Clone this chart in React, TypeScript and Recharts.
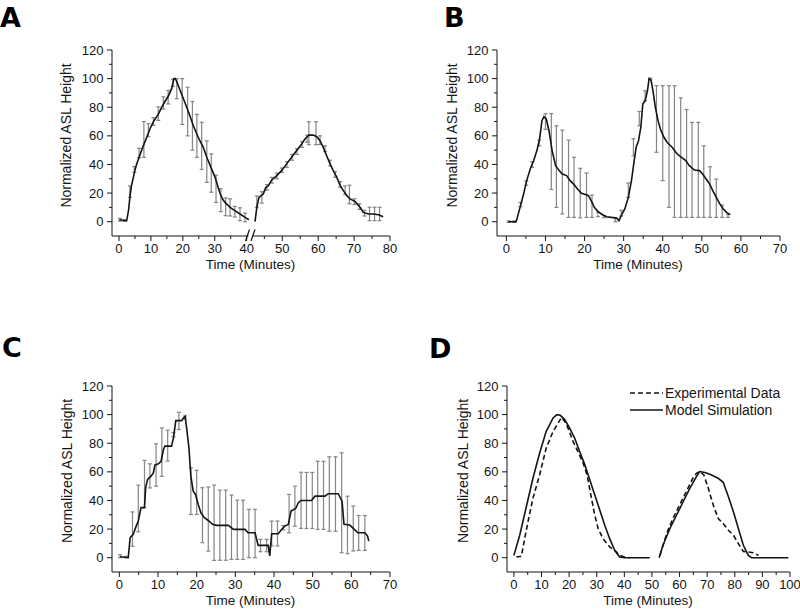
import React from 'react';
import { ComposedChart, Line, Scatter, ErrorBar, XAxis, YAxis, Legend } from 'recharts';

type Pt = [number, number];
type Err = [number, number, number]; // time, mean, +/- error

// ---------- panel A (broken time axis) ----------
const aLine1: Pt[] = [
  [0.1, 1.4], [1.2, 1], [2.4, 0.8], [3.0, 8], [3.4, 17], [3.9, 25], [4.5, 31], [5.0, 36], [5.5, 40],
  [6.6, 47], [7.6, 53], [8.7, 59], [9.7, 65], [10.8, 70], [12.3, 75], [13.4, 80], [14.4, 84], [15.5, 88],
  [16.5, 93], [17.2, 100], [17.6, 100], [18.1, 98], [19.1, 92], [20.7, 83], [22.2, 74], [23.3, 67],
  [24.8, 59], [26.4, 52], [27.5, 45], [28.8, 38], [30.1, 31], [31.6, 20], [32.4, 16], [33.2, 13.5],
  [34.8, 10], [36.3, 7.7], [37.9, 5.4], [39.5, 3], [40.7, 1.4],
];
const aErr1: Err[] = [
  [0.3, 1.4, 1], [1.8, 0.8, 0.6], [3.4, 21, 4], [4.8, 36.5, 2], [6.3, 48, 3.3], [7.8, 57.5, 12.5],
  [9.2, 64, 4.5], [10.8, 70, 2.7], [12.3, 75.5, 4.7], [13.9, 83, 4.3], [15.4, 87, 4.7], [16.9, 97, 2.5],
  [18.1, 93, 7], [19.8, 84, 16], [21.5, 77, 17], [23, 67, 17], [24.4, 60, 15], [25.9, 53, 16.5],
  [27.5, 42, 14.5], [28.9, 34, 13.4], [30.4, 23, 9.5], [31.9, 15, 8], [33.4, 10.4, 6.2], [34.8, 10, 6],
  [36.3, 7, 3.7], [37.9, 5.2, 4.5], [39.5, 3, 3],
];
const aLine2: Pt[] = [
  [42.4, 0], [42.9, 10], [43.5, 17], [44.7, 19.4], [45.4, 24], [46.1, 25], [47, 29], [48.4, 32],
  [49.8, 35.7], [51.2, 40.4], [52.6, 45], [54, 49.7], [55.4, 54.3], [56.3, 57.8], [57.4, 60.5],
  [58.6, 60.5], [59.6, 59.4], [60.5, 56.6], [61.4, 52], [62.3, 46.4], [63.3, 40.4], [64.2, 35.7],
  [65.2, 31], [66.1, 25.4], [67, 21.7], [68, 18.2], [68.9, 15.9], [70.3, 14], [71.6, 10.3], [72.6, 6.5],
  [74, 5.4], [75.4, 5.4], [76.8, 4.9], [78.1, 3.5],
];
const aErr2: Err[] = [
  [42.9, 14, 4], [44.3, 17, 4], [45.7, 24, 2], [47.1, 29, 2], [48.5, 32, 2], [49.9, 36, 1.5],
  [51.3, 40, 2], [52.7, 45, 2], [54.1, 49, 2], [55.5, 54, 2], [56.9, 58, 2.5], [57.4, 61.8, 8],
  [59.4, 61.8, 8], [60.5, 57, 3], [61.9, 51, 2], [63.3, 41, 2], [64.7, 33, 2], [66.1, 26, 2],
  [67.5, 22, 3], [68.7, 19, 6.5], [70.1, 14, 2], [71.5, 10.5, 2], [72.9, 6, 2], [74.3, 5.4, 4.7],
  [75.7, 5.4, 4.7], [77.1, 5.4, 4.7],
];

// ---------- panel B ----------
const bLine: Pt[] = [
  [0.5, 0], [2.5, 0], [3.5, 10], [4.4, 19.3], [5.2, 28.7], [6.1, 36.8], [7, 42.7], [7.8, 49.7],
  [8.5, 57.8], [9.1, 70.6], [9.6, 73.4], [10.2, 71.8], [10.9, 63.6], [11.3, 56.6], [11.7, 49.7],
  [12.6, 39.2], [13.5, 35.7], [14.3, 33.3], [15.4, 32.2], [16.3, 28.7], [17.2, 26.3], [18.2, 22.8],
  [19.2, 19.8], [20.4, 18.9], [21, 18.2], [21.7, 14.7], [22.5, 10], [23.4, 7.2], [24.3, 5.4],
  [25.6, 3.5], [26.9, 3], [28.2, 2.6], [28.8, 0.7], [29.6, 5.4], [30.3, 8.9], [31.2, 17], [32, 28.7],
  [32.7, 42.7], [33.2, 52], [33.8, 56.6], [34.4, 66], [34.9, 82.3], [35.5, 84.6], [36.1, 91.6],
  [36.5, 99.8], [37, 99], [37.5, 91.6], [38.1, 80], [38.8, 70.6], [39.4, 64.8], [40.3, 59],
  [41.1, 55.5], [42.4, 52], [43.7, 47.3], [44.8, 45], [45.9, 42.7], [46.8, 39.2], [48.1, 36.1],
  [49.4, 35.7], [50.2, 33.3], [51.1, 29.8], [52, 26.3], [52.8, 21.7], [53.7, 17], [54.6, 12.4],
  [55.5, 8.9], [56.3, 6.5], [57.3, 4.9],
];
const bErr: Err[] = [
  [0.6, 0, 0.5], [2, 0, 0.5], [3.6, 12, 1.5], [5.1, 27, 1.5], [6.6, 40, 2], [8.4, 55, 2], [10, 70, 5.5],
  [11.5, 49, 26.5], [12.8, 38.5, 28.5], [14.3, 34.7, 29.3], [15.9, 30, 27], [17.3, 24, 21],
  [18.9, 20, 17.3], [20.5, 18.5, 15.5], [21.9, 10.8, 7.8], [23.4, 5, 1.5], [25, 3.5, 0.7],
  [27.9, 1, 1], [29.4, 6, 2], [31.2, 22, 5], [32.5, 52, 6], [34, 72, 5], [35.5, 88, 3.5],
  [36.8, 100, 0.5], [38.4, 71.8, 23.3], [40, 61.9, 33.2], [41.6, 52.5, 42.5], [43, 49, 46],
  [44.6, 44.8, 41.8], [46.1, 40.7, 37.7], [47.5, 36.2, 33.2], [49.1, 36.2, 33.2], [50.5, 28, 25],
  [52.1, 20.7, 17.7], [53.7, 16.4, 13.4], [55.2, 7.3, 4.3], [56.7, 4, 1],
];

// ---------- panel C ----------
const cLine: Pt[] = [
  [0.2, 0.7], [2.3, 0], [2.8, 14], [3.6, 16.3], [4.2, 21], [4.9, 25.6], [5.6, 35], [6.5, 35],
  [6.8, 48.8], [7.3, 54.7], [8.2, 57], [8.8, 59.3], [9.2, 64.7], [10.1, 65.6], [10.8, 67.4],
  [11.4, 75.6], [11.8, 78], [13.5, 78], [14, 83.7], [14.6, 95.8], [16.1, 95.8], [16.5, 97.2],
  [17, 98.8], [17.4, 90.7], [18, 76.7], [18.5, 57], [19.1, 46.5], [19.7, 44.2], [20.4, 37.2],
  [21.1, 31.4], [22, 27.9], [23, 26], [24.1, 23.3], [25.2, 22.6], [28.2, 22.6], [29.5, 19.8],
  [32.5, 19.8], [33.3, 17.4], [35.1, 17.4], [35.9, 8.6], [38.5, 8.6], [38.9, 1.2], [39.4, 16.7],
  [41.1, 16.7], [42, 19.8], [42.8, 22.1], [43.7, 23.3], [44.4, 32.6], [45.6, 34.4], [46.3, 38.4],
  [47, 40], [49.7, 40], [50.6, 43], [53.2, 43], [54, 44.7], [56.6, 44.7], [57.6, 39.5], [58.1, 23.3],
  [59.6, 22.8], [60.5, 20.5], [61.7, 17.4], [63.5, 17.4], [64.2, 15.1], [64.5, 11.6],
];
const cErr: Err[] = [
  [0.2, 1, 1], [1.7, 0.5, 0.5], [3.4, 20, 12], [4.9, 34.4, 16.3], [6.5, 51.5, 16.5], [7.9, 57.2, 8.4],
  [9.5, 64.8, 14.8], [11, 73.8, 16.9], [12.5, 78.3, 10.8], [14, 86, 1.5], [15.4, 95.6, 6], [17, 98, 1],
  [18.5, 46.5, 16.3], [20, 45.6, 15.4], [21.5, 29.7, 19.2], [23, 27, 22.4], [24.5, 24.4, 26.3],
  [26, 22.7, 24.5], [27.5, 22.7, 24.5], [29, 21.3, 22.5], [30.5, 19.5, 20.7], [32, 19.5, 20.7],
  [33.5, 16.9, 16.9], [35.1, 16.9, 16.9], [36.5, 8.5, 4.3], [38.1, 8.5, 4.3], [39.4, 16.9, 8.7],
  [40.9, 16.9, 8.7], [42.4, 21, 1.5], [43.9, 30.8, 13.4], [45.4, 36, 14], [47, 40.1, 19.6],
  [48.4, 40, 19.6], [49.9, 40, 19.6], [51.3, 43.6, 23.8], [52.8, 43.6, 23.8], [54.3, 44.5, 26],
  [55.9, 44.5, 26], [57.5, 38.4, 34.9], [59, 22.9, 20.1], [60.5, 20.4, 15.7], [61.9, 17.3, 12.2],
  [63.5, 17.3, 12.2],
];

// ---------- panel D ----------
const dExp1: Pt[] = [
  [0.9, 0.5], [2.7, 1], [3.9, 13.3], [5.1, 25], [6.9, 41.5], [9.3, 57.8], [11.7, 76.6], [14.2, 88.3],
  [16, 94], [17.2, 98], [18.4, 95.3], [19.6, 90.6], [21.4, 81.3], [23.2, 74.2], [25.1, 66], [26.5, 57.8],
  [28.1, 41.5], [29.3, 29.7], [30.5, 20.4], [32.3, 13.3], [34.7, 7.5], [37.1, 4], [38.3, 1.6],
  [40.1, 0.5], [41.9, 0],
];
const dExp2: Pt[] = [
  [52.9, 1.6], [54, 8.7], [55.8, 19.2], [57.6, 27.4], [60, 36.8], [62.4, 46.1], [64.8, 55.5], [66.1, 59],
  [67.3, 60.2], [68.8, 57.8], [70.4, 48.5], [72.2, 36.8], [74, 27.4], [75.8, 23.9], [77.7, 19.2],
  [79.5, 15.7], [81.3, 9.8], [83.1, 4.4], [84.9, 4], [86.7, 3.5], [88.6, 1.6],
];
const dModel1: Pt[] = [
  [0, 1.6], [2.1, 15.7], [4.5, 35.6], [6.9, 55.5], [9.3, 73], [11.7, 88.3], [14.2, 97.7], [15.6, 100],
  [16.8, 99.5], [18.4, 96.5], [20.2, 90.6], [22, 83.6], [23.8, 74.2], [25.7, 64.9], [27.5, 54.3],
  [29.3, 43.8], [31.1, 33.3], [32.9, 22.7], [34.7, 13.3], [36.5, 5.2], [38.3, 0.5], [40.1, 0], [49.2, 0],
];
const dModel2: Pt[] = [
  [52.6, 0], [54, 8.7], [56.5, 20.4], [58.9, 29.7], [61.3, 39.1], [63.7, 48.5], [66.1, 56.7],
  [67.3, 60.2], [69.2, 59.5], [71.6, 57.8], [74, 55.5], [75.8, 52.7], [77.7, 42.6], [79.5, 32.1],
  [81.3, 20.4], [83.1, 8.7], [84.9, 1.6], [86.1, 0], [99.4, 0],
];
const legendOrder = ['Experimental Data', 'Model Simulation'];

// ---------- ticks ----------
const yTicks = [0, 10, 20, 30, 40, 50, 60, 70, 80, 90, 100, 110, 120];
const aTicks1 = [0, 5, 10, 15, 20, 25, 30, 35, 40];
const aTicks2 = [45, 50, 55, 60, 65, 70, 75, 80];
const bcTicks = [0, 5, 10, 15, 20, 25, 30, 35, 40, 45, 50, 55, 60, 65, 70];
const dTicks = [0, 5, 10, 15, 20, 25, 30, 35, 40, 45, 50, 55, 60, 65, 70, 75, 80, 85, 90, 95, 100];

const FONT = '"Liberation Sans", Arial, sans-serif';
const INK = '#141414';

const toPts = (arr: Pt[]) => arr.map(([t, v]) => ({ t, v }));
const toErr = (arr: Err[]) => arr.map(([t, v, e]) => ({ t, v, e }));
const joinGap = (a: Pt[], b: Pt[], gapAt: number) => [...toPts(a), { t: gapAt, v: null }, ...toPts(b)];

const XTick = ({ x, y, payload }: any) => {
  const major = payload.value % 10 === 0;
  return (
    <g>
      <line x1={x} y1={y} x2={x} y2={y + (major ? 5 : 3)} stroke={INK} />
      {major && (
        <text x={x} y={y + 16.5} textAnchor="middle" fontSize={13} fontFamily={FONT} fill={INK}>
          {payload.value}
        </text>
      )}
    </g>
  );
};

const YTick = ({ x, y, payload }: any) => {
  const major = payload.value % 20 === 0;
  return (
    <g>
      <line x1={x} y1={y} x2={x - (major ? 5 : 3)} y2={y} stroke={INK} />
      {major && (
        <text x={x - 8.5} y={y + 4.5} textAnchor="end" fontSize={13} fontFamily={FONT} fill={INK}>
          {payload.value}
        </text>
      )}
    </g>
  );
};

const noDot = () => <g />;

interface TraceProps {
  left: number;
  top: number;
  width: number;
  marginLeft: number;
  xDomain: [number, number];
  xTicks: number[];
  line: Pt[];
  errs: Err[];
  hideY?: boolean;
}

// one mean trace with grey SD bars
function TracePanel({ left, top, width, marginLeft, xDomain, xTicks, line, errs, hideY }: TraceProps) {
  return (
    <div style={{ position: 'absolute', left, top }}>
      <ComposedChart width={width} height={300} margin={{ top: 50, right: 10, bottom: 24, left: marginLeft }}>
        <XAxis
          type="number"
          dataKey="t"
          domain={xDomain}
          allowDataOverflow
          ticks={xTicks}
          interval={0}
          tick={<XTick />}
          tickLine={false}
          tickSize={0}
          tickMargin={0}
          height={40}
          stroke={INK}
        />
        <YAxis
          type="number"
          dataKey="v"
          domain={[-10, 120]}
          allowDataOverflow
          ticks={yTicks}
          interval={0}
          tick={<YTick />}
          tickLine={false}
          tickSize={0}
          tickMargin={0}
          width={60}
          stroke={INK}
          hide={hideY}
        />
        <Scatter data={toErr(errs)} dataKey="v" shape={noDot} isAnimationActive={false}>
          <ErrorBar dataKey="e" direction="y" width={2} stroke="#858585" strokeWidth={1.2} isAnimationActive={false} />
        </Scatter>
        <Line data={toPts(line)} dataKey="v" type="linear" stroke={INK} strokeWidth={1.6} dot={false} isAnimationActive={false} />
      </ComposedChart>
    </div>
  );
}

const DLegend = ({ payload }: any) => {
  const items = [...(payload || [])].sort((a: any, b: any) => legendOrder.indexOf(a.value) - legendOrder.indexOf(b.value));
  return (
    <svg width={180} height={36} style={{ display: 'block' }}>
      {items.map((entry: any, i: number) => (
        <g key={entry.value} transform={`translate(0, ${i * 17})`}>
          <line x1={2} y1={9} x2={35} y2={9} stroke={INK} strokeWidth={1.6} strokeDasharray={entry.payload?.strokeDasharray} />
          <text x={37} y={14} fontSize={14} fontFamily={FONT} fill={INK}>
            {entry.value}
          </text>
        </g>
      ))}
    </svg>
  );
};

function ModelPanel() {
  return (
    <div style={{ position: 'absolute', left: 400, top: 336 }}>
      <ComposedChart width={400} height={300} margin={{ top: 50, right: 10, bottom: 24, left: 47 }}>
        <XAxis
          type="number"
          dataKey="t"
          domain={[-2.5, 100]}
          allowDataOverflow
          ticks={dTicks}
          interval={0}
          tick={<XTick />}
          tickLine={false}
          tickSize={0}
          tickMargin={0}
          height={40}
          stroke={INK}
        />
        <YAxis
          type="number"
          domain={[-10, 120]}
          allowDataOverflow
          ticks={yTicks}
          interval={0}
          tick={<YTick />}
          tickLine={false}
          tickSize={0}
          tickMargin={0}
          width={60}
          stroke={INK}
        />
        <Legend layout="vertical" verticalAlign="middle" align="center" wrapperStyle={{ left: 228, top: 48 }} content={DLegend} />
        <Line
          name="Experimental Data"
          data={joinGap(dExp1, dExp2, 47)}
          dataKey="v"
          type="linear"
          stroke={INK}
          strokeWidth={1.6}
          strokeDasharray="5 3"
          dot={false}
          isAnimationActive={false}
        />
        <Line
          name="Model Simulation"
          data={joinGap(dModel1, dModel2, 51)}
          dataKey="v"
          type="linear"
          stroke={INK}
          strokeWidth={1.6}
          dot={false}
          isAnimationActive={false}
        />
      </ComposedChart>
    </div>
  );
}

export default function App() {
  const yTitles = [
    [66, 135.5],
    [451.5, 135.5],
    [66.5, 471],
    [463, 471],
  ];
  const xTitles = [
    [250.5, 268.5],
    [638, 268.5],
    [250.5, 604.5],
    [648, 604.5],
  ];
  const letters: [string, number, number][] = [
    ['A', 0, 27],
    ['B', 444, 27],
    ['C', 2, 357],
    ['D', 429, 358],
  ];
  return (
    <div style={{ position: 'absolute', left: 0, top: 0, width: 800, height: 613, background: '#fff', overflow: 'hidden' }}>
      {/* A is drawn as two charts either side of the axis break */}
      <TracePanel left={0} top={0} width={261} marginLeft={52} xDomain={[-2.19, 41.35]} xTicks={aTicks1} line={aLine1} errs={aErr1} />
      <TracePanel left={0} top={0} width={400} marginLeft={252} xDomain={[41.56, 80]} xTicks={aTicks2} line={aLine2} errs={aErr2} hideY />
      <TracePanel left={400} top={0} width={390} marginLeft={37} xDomain={[-2.4, 70]} xTicks={bcTicks} line={bLine} errs={bErr} />
      <TracePanel left={0} top={336} width={400} marginLeft={52} xDomain={[-1.9, 70]} xTicks={bcTicks} line={cLine} errs={cErr} />
      <ModelPanel />

      <svg width={800} height={613} style={{ position: 'absolute', left: 0, top: 0, pointerEvents: 'none' }}>
        {/* axis break marker */}
        <rect x={248.5} y={232} width={4} height={7} fill="#fff" />
        <line x1={245.5} y1={241} x2={249.5} y2={229.5} stroke={INK} strokeWidth={1.2} />
        <line x1={251} y1={241} x2={255} y2={229.5} stroke={INK} strokeWidth={1.2} />

        {yTitles.map(([x, y], i) => (
          <text
            key={`y${i}`}
            transform={`translate(${x},${y}) rotate(-90)`}
            textAnchor="middle"
            dominantBaseline="central"
            fontSize={14}
            fontFamily={FONT}
            fill={INK}
          >
            Normalized ASL Height
          </text>
        ))}
        {xTitles.map(([x, y], i) => (
          <text key={`x${i}`} x={x} y={y} textAnchor="middle" fontSize={13.5} fontFamily={FONT} fill={INK}>
            Time (Minutes)
          </text>
        ))}
        {letters.map(([s, x, y]) => (
          <text key={s} x={x} y={y} fontSize={27} fontWeight="bold" fontFamily='"DejaVu Sans", sans-serif' fill="#000">
            {s}
          </text>
        ))}
      </svg>
    </div>
  );
}
